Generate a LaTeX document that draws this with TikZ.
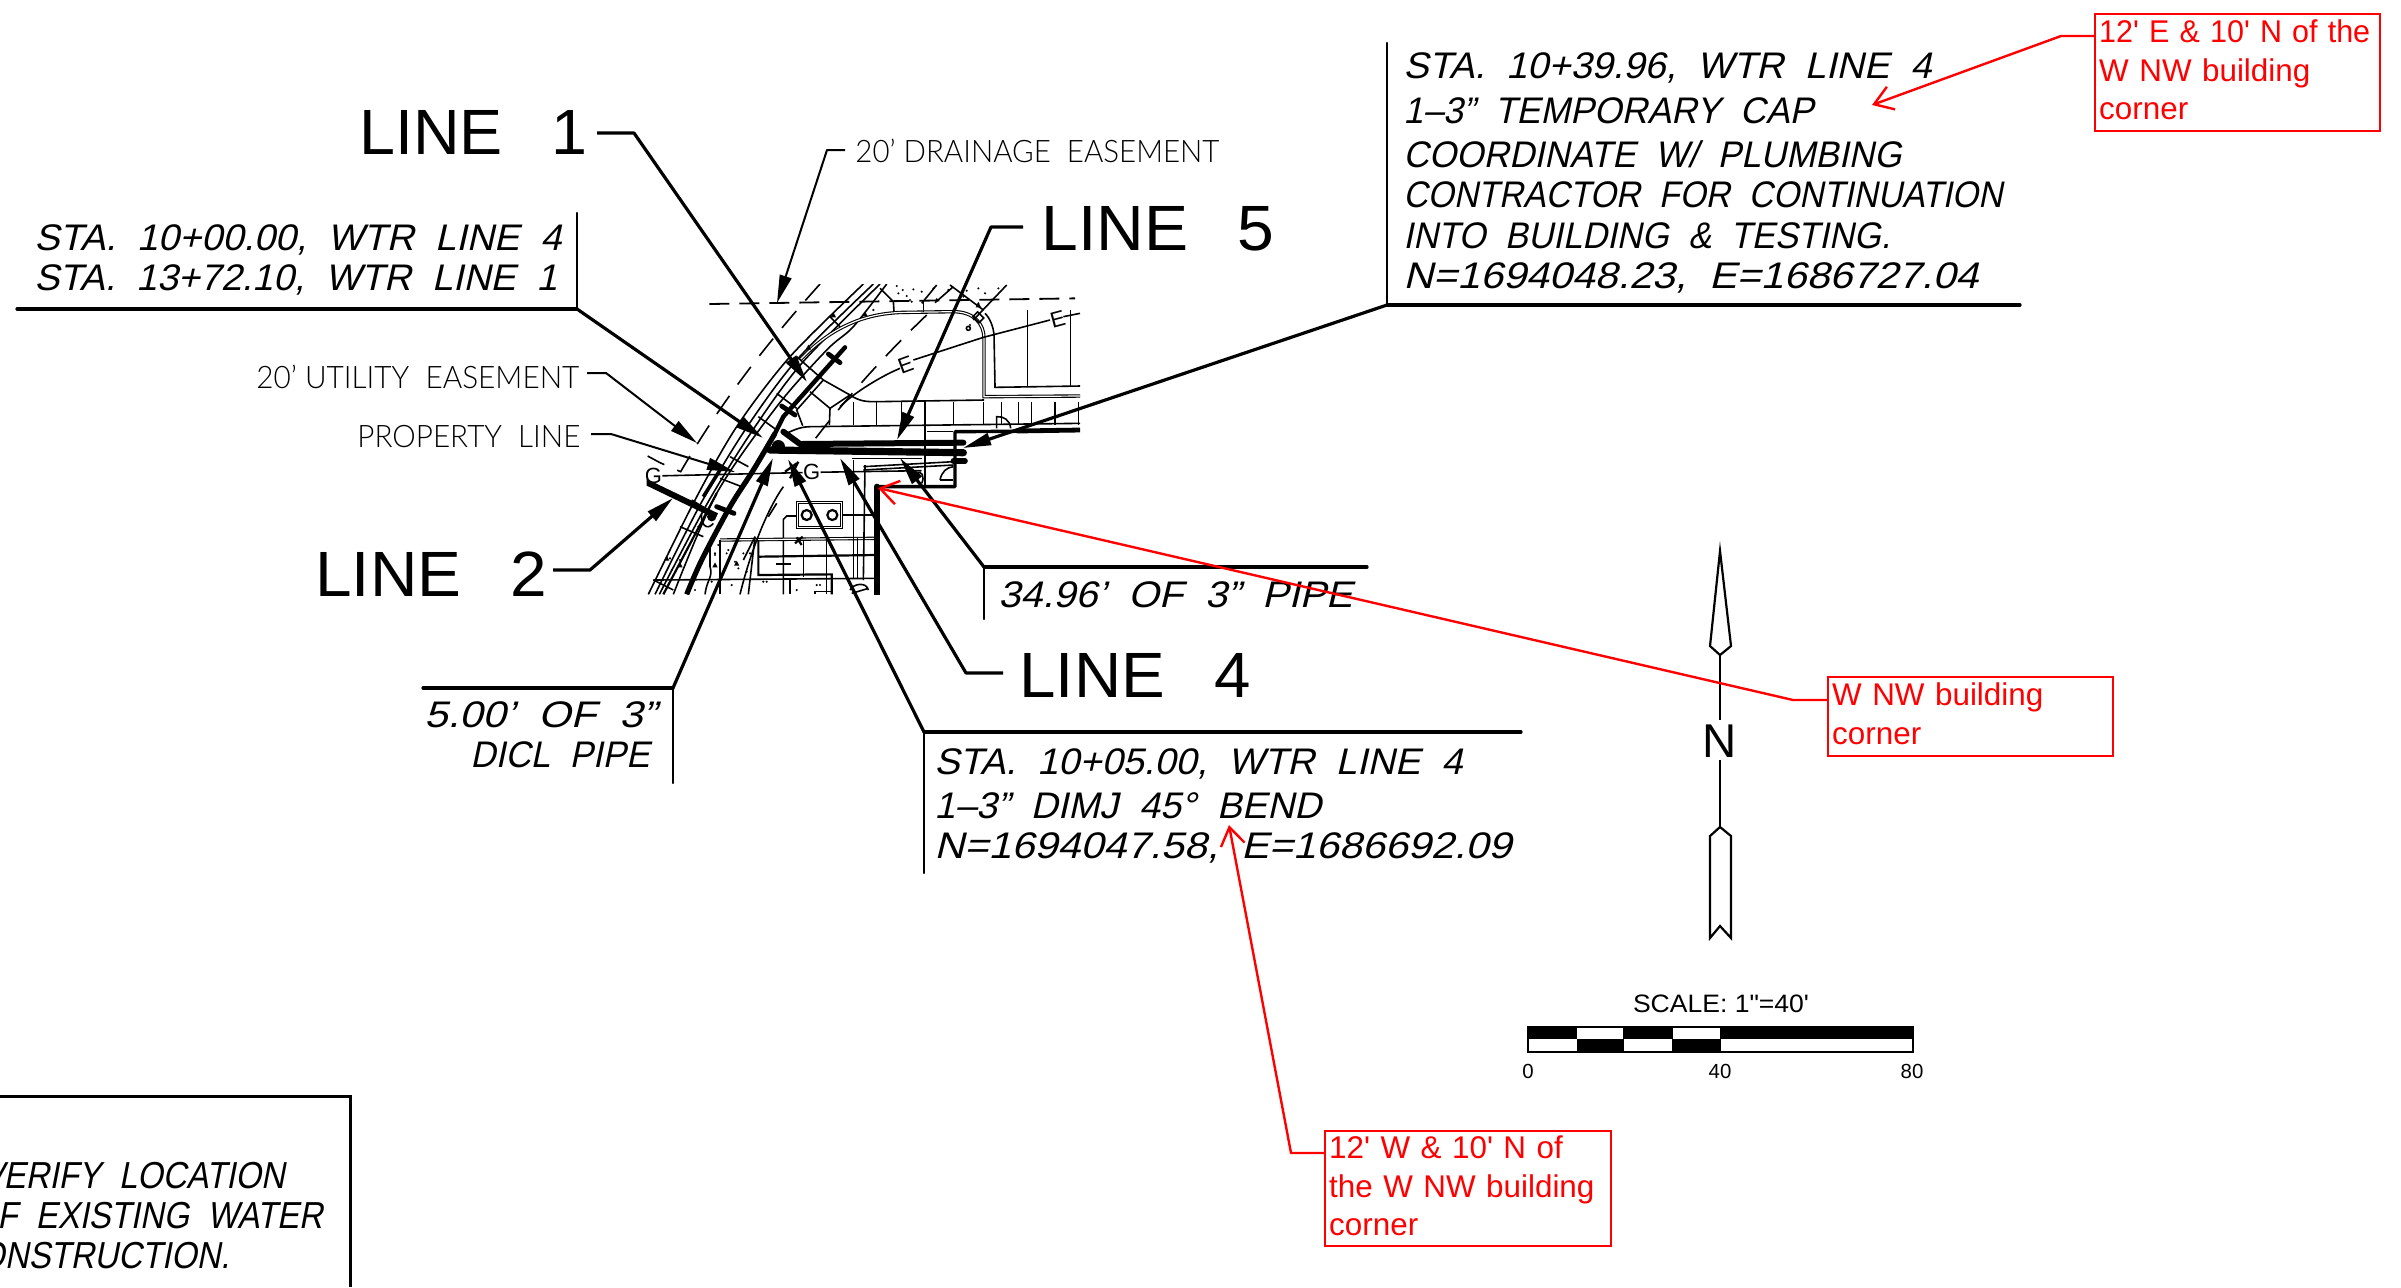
\documentclass[tikz,border=0pt]{standalone}
\usepackage{fontspec}
\usepackage{graphicx}
\usetikzlibrary{arrows.meta}
\setmainfont{Liberation Sans}
\newfontfamily\cadup{Liberation Sans}
\newfontfamily\cadlight{Lato Light}
\newfontfamily\cadit[FakeSlant=0.22]{Liberation Sans}
\newdimen\pxu \pxu=0.5pt
\newcommand\fw[2]{\resizebox{#1\pxu}{\height}{#2}}
\definecolor{markup}{RGB}{255,0,0}
\tikzset{
  caps/.style={inner sep=0pt,anchor=base west,font=\cadit\fontsize{18.5}{20}\selectfont},
  small/.style={inner sep=0pt,anchor=base west,font=\cadlight\fontsize{15.5}{18}\selectfont},
  big/.style={inner sep=0pt,anchor=base west,font=\cadup\fontsize{32}{36}\selectfont},
  heavy/.style={line width=1.6pt,line join=round,-{Stealth[length=14pt,width=6pt,inset=0pt]}},
  fine/.style={line width=1pt,line join=round,-{Stealth[length=14pt,width=6pt,inset=0pt]}},
  shelf/.style={line width=1.6pt,line cap=round},
  post/.style={line width=1.2pt,line cap=round},
  redlead/.style={draw=markup,line width=1.2pt,line join=round,-{Straight Barb[length=9pt,width=12pt,line width=1.2pt]}},
  redbox/.style={draw=markup,line width=1.2pt,text=markup,anchor=north west,inner xsep=2pt,inner ysep=0pt,align=left,
     font=\cadup\fontsize{15.7}{19.2}\selectfont},
  sitethin/.style={line width=.8pt},
  sitemed/.style={line width=1.1pt},
  scaletxt/.style={inner sep=0pt,anchor=base,font=\cadup\fontsize{10.2}{12}\selectfont},
}
\begin{document}
\begin{tikzpicture}[x=0.5pt,y=-0.5pt]
\useasboundingbox (0,0) rectangle (2401,1287);

% ---------- site plan fragment ----------
\begin{scope}[shift={(620,260)},x=0.16667pt,y=-0.16667pt]
\clip (80,72) rectangle (1380,1003);
% easement dashes
\draw[line width=.9pt,dash pattern=on 10pt off 5pt] (268,132) -- (1365,115);
\draw[sitethin,dash pattern=on 11pt off 7pt] (600,72) .. controls (440,250) and (300,430) .. (182,635) -- (120,608);
\draw[sitethin,dash pattern=on 7pt off 7pt] (120,608) -- (40,565);
\draw[sitethin,dash pattern=on 11pt off 7pt] (920,165) .. controls (800,280) and (680,410) .. (560,570);
% band lines
\draw[sitethin] plot[smooth] coordinates {(85,1003)(225,720)(350,500)(510,290)(730,72)};
\draw[sitethin] plot[smooth] coordinates {(105,1003)(240,735)(375,510)(530,300)(760,72)};
\draw[sitethin] plot[smooth] coordinates {(118,1003)(262,730)(395,515)(545,310)(780,72)};
\draw[sitethin] plot[smooth] coordinates {(160,1003)(290,700)(470,440)(620,270)(700,200)(800,72)};
\draw[sitemed] (130,1003) -- (290,700);
% curb
\draw[line width=.55pt,double,double distance=.6pt] (540,300) .. controls (620,215) and (720,157) .. (860,157) -- (1000,155) .. controls (1060,155) and (1092,190) .. (1092,235) -- (1092,410) -- (1380,408);
\draw[sitethin] (1095,160) .. controls (1110,175) and (1120,200) .. (1122,225) -- (1125,382) -- (1380,378);
\draw[sitethin] (530,290) -- (610,360) -- (690,405) .. controls (720,425) and (740,425) .. (770,425) -- (1092,420);
\draw[sitethin] (610,360) -- (530,450) -- (548,497);
\draw[sitethin] (570,395) -- (630,445) -- (628,495);
\draw[sitethin] (630,445) -- (690,405);
% walk cells
\draw[sitethin] (500,520) .. controls (530,505) and (550,500) .. (570,500) -- (1380,490);
\foreach \cx in {700,770,845,915,1000,1090,1145,1195,1235,1305,1375}
  \draw[sitethin] (\cx,425) -- (\cx,495);
% band ticks
\foreach \ax/\ay/\bx/\by in {470/400/530/445,415/470/470/510,330/590/385/620,300/655/365/680,215/720/280/760,180/800/250/830,100/960/160/990,630/170/660/200}
  \draw[sitethin] (\ax,\ay) -- (\bx,\by);
% electric line
\draw[sitethin] (660,440) .. controls (700,400) and (780,350) .. (840,325);
\draw[sitethin] (880,300) -- (1090,232) -- (1290,180);
\draw[sitethin] (1330,170) -- (1380,160);
\node (eone) [inner sep=0pt,rotate=20,font=\cadup\fontsize{11}{12}\selectfont] at (857,314) {E};
\node (etwo) [inner sep=0pt,rotate=15,font=\cadup\fontsize{11}{12}\selectfont] at (1313,178) {E};
\draw[sitethin] (1222,150) -- (1222,380);
\draw[sitethin] (1352,150) -- (1352,378);
% top details
\draw[sitethin] (780,85) -- (820,125) -- (822,155);
\draw[sitethin] (990,75) -- (1090,150);
\draw[sitethin] (910,125) -- (910,155);
\draw[sitethin] (1160,75) -- (1060,180);
\draw[sitethin] (945,128) -- (1000,80);
\draw[sitethin] (905,130) -- (950,75);
\draw[sitethin,rotate around={-45:(1075,172)}] (1062,162) rectangle (1088,182);
\draw[sitethin] (1045,205) circle (6);
% stipple
\foreach \px/\py in {830/78,848/90,835/100,860/108,905/95,880/88,940/85,985/90,1040/92,1075/85,1095/100,1030/110,1075/130,1135/85,875/125,735/160,760/150,870/120,950/118,1050/195,150/895,235/800,285/880,180/900,285/885,325/870,345/905,355/925,380/935,390/880,225/940,155/930,275/965,295/855,320/880,340/870,430/965,530/990,590/975,600/975,225/990,335/975,440/965,370/880}
  \fill (\px,\py) circle (3.5);
\foreach \px/\py in {735/162,1075/135,180/915,140/895,350/910,285/915,640/165,565/262}
  \fill (\px-8,\py+7) -- (\px,\py-8) -- (\px+8,\py+7) -- cycle;
% gas line
\node (gone) [inner sep=0pt,font=\cadup\fontsize{11}{12}\selectfont] at (100,648) {G};
\node (gtwo) [inner sep=0pt,font=\cadup\fontsize{11}{12}\selectfont] at (575,637) {G};
\draw[sitethin] (gone) -- (gtwo);
\draw[sitethin] (gtwo) -- (905,632);
% utility yard
\draw[line width=.55pt,double,double distance=.6pt] (532,727) rectangle (665,803);
\draw[sitemed] (560,765) circle (15);
\draw[sitemed] (637,765) circle (15);
\draw[sitethin] (665,765) -- (765,765);
\draw[sitethin] (530,768) -- (500,768) -- (490,778) -- (490,1003);
\draw[line width=.55pt,double,double distance=.6pt] (300,840) -- (765,835);
\draw[sitemed] (415,890) -- (765,885);
\draw[sitemed] (415,840) -- (415,945) -- (635,943) -- (635,1003);
\draw[sitethin] (100,960) -- (765,955);
\draw[sitethin] (550,840) -- (550,950);
\draw[sitethin] (620,840) -- (620,1003);
\draw[sitethin] (700,600) -- (700,955);
\draw[sitethin] (712,835) -- (712,955);
\draw[sitethin] (735,615) -- (730,960);
\draw[sitethin] (730,620) -- (1000,605);
\draw[sitethin] (730,630) -- (1000,615);
\draw[sitethin] (695,595) -- (905,595);
\draw[sitemed] (468,912) -- (512,912);
\draw[sitemed] (525,850) -- (548,830) (530,832) -- (545,855);
\draw[sitethin] (490,680) .. controls (440,750) and (390,880) .. (360,1003);
\draw[sitethin] (405,830) -- (385,1003);
\draw[sitethin] (470,730) -- (445,770);
\draw[sitethin] (405,830) -- (370,900);
\draw[sitemed] (495,635) -- (530,610) (510,655) -- (535,605);
\draw[sitethin] (270,845) -- (270,920) .. controls (280,950) and (260,960) .. (255,1003);
\draw[sitethin] (300,840) -- (300,1003);
\draw[sitethin] (510,960) -- (510,1003) (585,1003) -- (585,995) -- (635,995);
\draw[sitethin] (690,990) .. controls (700,970) and (740,965) .. (745,990) (695,1000) -- (745,985);
\draw[sitethin] (915,420) -- (915,680);
\draw[sitethin] (920,515) -- (1000,515);
\draw[sitethin] (960,660) .. controls (965,635) and (980,622) .. (1000,620);
\draw[sitethin] (960,660) -- (1000,660);
\draw[sitethin] (1130,505) -- (1130,470) .. controls (1150,468) and (1170,480) .. (1172,505);
\draw[sitethin] (890,640) .. controls (905,630) and (915,650) .. (905,670);
\draw[sitethin] (245,760) .. controls (240,790) and (260,815) .. (280,790);
\draw[sitemed] (38,890) -- (50,890) -- (44,915);
% building wall
\draw[line width=3pt,line cap=round] (770,1003) -- (770,680);
\draw[line width=1.7pt,line join=round] (765,680) -- (1005,680) -- (1005,515) -- (1310,513);
\draw[line width=2.4pt] (1190,513) -- (1380,510);
% pipes
\draw[line width=2.6pt] plot[smooth] coordinates {(200,1003)(245,900)(330,740)(400,630)(465,520)};
\draw[line width=2.2pt,line cap=round] (465,520) -- (490,470) -- (675,262);
\draw[line width=2.4pt,line cap=round] (625,282) -- (660,308);
\draw[line width=2.4pt,line cap=round] (485,438) -- (525,465);
\draw[line width=1.8pt] (250,710) -- (300,630);
\draw[line width=3pt] (45,650) -- (290,768);
\draw[line width=2.4pt,line cap=round] (290,740) -- (342,760);
\fill (275,770) circle (14);
\draw[line width=3pt,line cap=round,line join=round] (490,515) -- (540,552) -- (1030,548);
\draw[line width=3.6pt,line cap=round] (450,570) -- (1030,578);
\draw[line width=2.8pt,line cap=round] (1000,603) -- (1035,603);
\fill (475,560) circle (20);
\end{scope}

% ---------- named anchors ----------
\coordinate (e1) at (597,133); \coordinate (k1) at (634,133); \coordinate (t1) at (807,382);
\coordinate (k2) at (577,309); \coordinate (t2) at (763,438);
\coordinate (e3) at (587,373); \coordinate (k3) at (606,373); \coordinate (t3) at (697,443);
\coordinate (e4) at (591,434); \coordinate (k4) at (611,434); \coordinate (t4) at (735,472);
\coordinate (e5) at (845,150); \coordinate (k5) at (827,150); \coordinate (t5) at (777,303);
\coordinate (e6) at (1023,227); \coordinate (k6) at (991,227); \coordinate (t6) at (897,440);
\coordinate (k7) at (1387,305); \coordinate (t7) at (963,448);
\coordinate (e8) at (553,570); \coordinate (k8) at (590,570); \coordinate (t8) at (673,498);
\coordinate (k9) at (673,688); \coordinate (t9) at (773,458);
\coordinate (k10) at (984,567); \coordinate (t10) at (900,458);
\coordinate (e11) at (1003,673); \coordinate (k11) at (966,673); \coordinate (t11) at (840,458);
\coordinate (k12) at (924,732); \coordinate (t12) at (788,459);

% ---------- labels ----------
\node (lineone) [big] at (359,154) {\fw{228}{LINE\hspace{.75em}1}};
\node (linefive) [big] at (1041,250) {\fw{233}{LINE\hspace{.75em}5}};
\node (linetwo) [big] at (315,596) {\fw{232}{LINE\hspace{.75em}2}};
\node (linefour) [big] at (1019,697) {\fw{231}{LINE\hspace{.75em}4}};
\node (utility) [small] at (256,388) {\fw{323}{20’~UTILITY~~EASEMENT}};
\node (property) [small] at (357,447) {\fw{223}{PROPERTY~~LINE}};
\node (drainage) [small] at (855,162) {\fw{364}{20’~DRAINAGE~~EASEMENT}};

\node (ca) [caps] at (34,250) {\fw{527}{STA.~~10+00.00,~~WTR~~LINE~~4}};
\node (cb) [caps] at (34,290) {\fw{523}{STA.~~13+72.10,~~WTR~~LINE~~1}};

\node (da) [caps] at (1403,78) {\fw{528}{STA.~~10+39.96,~~WTR~~LINE~~4}};
\node (db) [caps] at (1403,123) {\fw{410}{1–3”~~TEMPORARY~~CAP}};
\node (dc) [caps] at (1403,167) {\fw{498}{COORDINATE~~W/~~PLUMBING}};
\node (dd) [caps] at (1403,207) {\fw{599}{CONTRACTOR~~FOR~~CONTINUATION}};
\node (de) [caps] at (1403,248) {\fw{487}{INTO~~BUILDING~~\&~~TESTING.}};
\node (df) [caps] at (1403,288) {\fw{575}{N=1694048.23,~~E=1686727.04}};

\node (fa) [caps] at (934,774) {\fw{528}{STA.~~10+05.00,~~WTR~~LINE~~4}};
\node (fb) [caps] at (934,818) {\fw{387}{1–3”~~DIMJ~~45°~~BEND}};
\node (fc) [caps] at (934,858) {\fw{577}{N=1694047.58,~~E=1686692.09}};

\node (ga) [caps] at (424,727) {\fw{232}{5.00’~~OF~~3”}};
\node (gb) [caps] at (470,767) {\fw{179}{DICL~~PIPE}};
\node (ha) [caps] at (998,607) {\fw{354}{34.96’~~OF~~3”~~PIPE}};

% ---------- callout shelves ----------
\draw[post] (577,213) -- (k2);
\draw[shelf] (17,309) -- (k2);
\draw[post] (1387,43) -- (k7);
\draw[shelf] (k7) -- (2020,305);
\draw[post] (k12) -- (924,873);
\draw[shelf] (k12) -- (1521,732);
\draw[post] (k9) -- (673,783);
\draw[shelf] (423,688) -- (k9);
\draw[post] (k10) -- (984,619);
\draw[shelf] (k10) -- (1367,567);

% ---------- leaders ----------
\draw[heavy] (e1) -- (k1) -- (t1);
\draw[heavy] (k2) -- (t2);
\draw[fine] (e3) -- (k3) -- (t3);
\draw[fine] (e4) -- (k4) -- (t4);
\draw[fine] (e5) -- (k5) -- (t5);
\draw[heavy] (e6) -- (k6) -- (t6);
\draw[heavy] (k7) -- (t7);
\draw[heavy] (e8) -- (k8) -- (t8);
\draw[heavy] (k9) -- (t9);
\draw[heavy] (k10) -- (t10);
\draw[heavy] (e11) -- (k11) -- (t11);
\draw[heavy] (k12) -- (t12);

% ---------- north arrow ----------
\draw[line width=1.1pt,line join=miter] (1720,551) -- (1731,646) -- (1720,655) -- (1710,646) -- cycle;
\draw[line width=1.1pt,line join=miter] (1720,827) -- (1731,836) -- (1731,938) -- (1720,926) -- (1710,938) -- (1710,836) -- cycle;
\node (north) [inner sep=0pt,anchor=base,font=\cadup\fontsize{23.7}{26}\selectfont] at (1720,757) {N};
\draw[line width=1.1pt] (1720,655) -- (1720,720);
\draw[line width=1.1pt] (1720,760) -- (1720,827);

% ---------- scale bar ----------
\node (scalecap) [inner sep=0pt,anchor=base,font=\cadup\fontsize{12.6}{14}\selectfont] at (1721,1012) {\fw{176}{SCALE: 1"=40'}};
\draw[line width=.8pt] (1528,1027) rectangle (1913,1052);
\fill (1528,1027) rectangle (1577,1039);
\fill (1623,1027) rectangle (1673,1039);
\fill (1720,1027) rectangle (1913,1039);
\fill (1577,1039) rectangle (1624,1052);
\fill (1672,1039) rectangle (1721,1052);
\node (szero) [scaletxt] at (1528,1078) {0};
\node (sforty) [scaletxt] at (1720,1078) {40};
\node (seighty) [scaletxt] at (1912,1078) {80};

% ---------- note box, cut by the sheet edge ----------
\draw[line width=1.5pt] (0,1096) -- (350,1096) -- (350,1287);
\begin{scope}
\clip (0,1100) rectangle (345,1287);
\node (na) [caps,anchor=base east,font=\cadit\fontsize{18.8}{22}\selectfont] at (285,1188) {\scalebox{.875}[1]{VERIFY~~LOCATION}};
\node (nb) [caps,anchor=base east,font=\cadit\fontsize{18.8}{22}\selectfont] at (323,1228) {\scalebox{.875}[1]{OF~~EXISTING~~WATER}};
\node (nc) [caps,anchor=base east,font=\cadit\fontsize{18.8}{22}\selectfont] at (230,1268) {\scalebox{.875}[1]{CONSTRUCTION.}};
\end{scope}

% ---------- red markup ----------
\node (rone) [redbox,minimum width=142.5pt,minimum height=58.5pt,text width=138.5pt] at (2094,13) {\fw{271}{12' E \& 10' N of the}\\W NW building\\corner\rule[-3pt]{0pt}{3pt}};
\node (rtwo) [redbox,minimum width=142.5pt,minimum height=39.5pt,text width=138.5pt] at (1827,676) {W NW building\\corner\rule[-3pt]{0pt}{3pt}};
\node (rthree) [redbox,minimum width=143pt,minimum height=57.5pt,text width=139pt] at (1324,1130) {12' W \& 10' N of\\the W NW building\\corner\rule[-3pt]{0pt}{3pt}};
\coordinate (ra) at (2094,36); \coordinate (rak) at (2061,36); \coordinate (rat) at (1872,105);
\coordinate (rb) at (1827,700); \coordinate (rbk) at (1793,700); \coordinate (rbt) at (878,488);
\coordinate (rc) at (1324,1153); \coordinate (rck) at (1291,1153); \coordinate (rct) at (1229,825);
\draw[redlead] (ra) -- (rak) -- (rat);
\draw[redlead] (rb) -- (rbk) -- (rbt);
\draw[redlead] (rc) -- (rck) -- (rct);
\end{tikzpicture}
\end{document}
